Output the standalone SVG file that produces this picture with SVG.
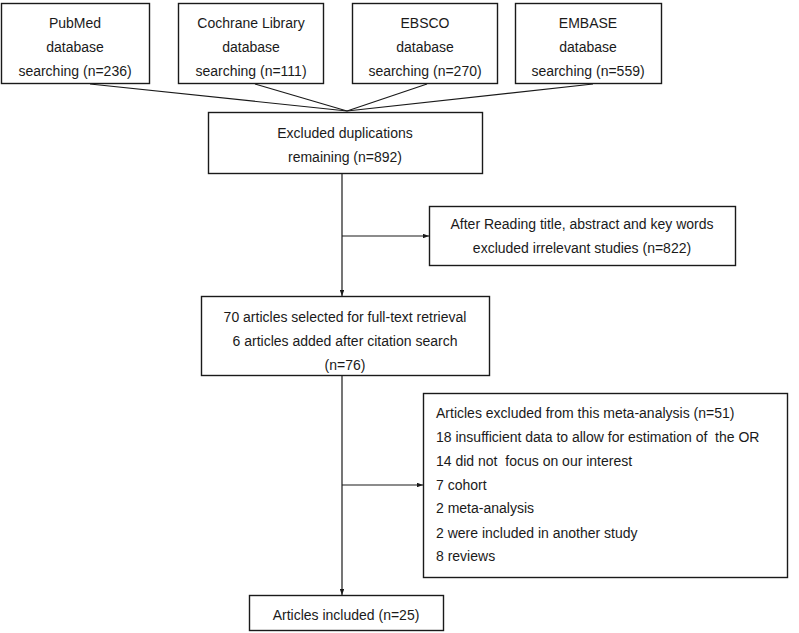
<svg xmlns="http://www.w3.org/2000/svg" width="799" height="633" viewBox="0 0 799 633">
<defs>
<style>
.box{fill:#fff;stroke:#1a1a1a;stroke-width:1.4}
.t{font-family:"Liberation Sans",Arial,sans-serif;font-size:14px;fill:#1a1a1a;text-anchor:middle}
.l{font-family:"Liberation Sans",Arial,sans-serif;font-size:14px;fill:#1a1a1a;white-space:pre}
.c{stroke:#1a1a1a;stroke-width:1.2;fill:none}
</style>
<marker id="ah" viewBox="0 0 8 6" refX="8" refY="3" markerWidth="6" markerHeight="4.5" orient="auto" markerUnits="userSpaceOnUse">
<path d="M0,0 L8,3 L0,6 z" fill="#1a1a1a"/>
</marker>
</defs>
<rect width="799" height="633" fill="#fff"/>
<g id="connectors">
<line class="c" x1="90" y1="84" x2="347" y2="111"/>
<line class="c" x1="255" y1="84" x2="347" y2="111"/>
<line class="c" x1="427" y1="84" x2="347" y2="111"/>
<line class="c" x1="593" y1="84" x2="347" y2="111"/>
<line class="c" x1="342" y1="174" x2="342" y2="296" marker-end="url(#ah)"/>
<line class="c" x1="342" y1="236" x2="429" y2="236" marker-end="url(#ah)"/>
<line class="c" x1="342" y1="375" x2="342" y2="595" marker-end="url(#ah)"/>
<line class="c" x1="342" y1="485" x2="423" y2="485" marker-end="url(#ah)"/>
</g>
<g id="pubmed">
<rect class="box" x="1.5" y="3.5" width="148" height="80"/>
<text class="t" x="75" y="28">PubMed</text>
<text class="t" x="75" y="52">database</text>
<text class="t" x="75" y="76">searching (n=236)</text>
</g>
<g id="cochrane">
<rect class="box" x="178.5" y="3.5" width="145" height="80"/>
<text class="t" x="251" y="28">Cochrane Library</text>
<text class="t" x="251" y="52">database</text>
<text class="t" x="251" y="76">searching (n=111)</text>
</g>
<g id="ebsco">
<rect class="box" x="352.5" y="3.5" width="145" height="80"/>
<text class="t" x="425" y="28">EBSCO</text>
<text class="t" x="425" y="52">database</text>
<text class="t" x="425" y="76">searching (n=270)</text>
</g>
<g id="embase">
<rect class="box" x="515.5" y="3.5" width="146" height="80"/>
<text class="t" x="588" y="28">EMBASE</text>
<text class="t" x="588" y="52">database</text>
<text class="t" x="588" y="76">searching (n=559)</text>
</g>
<g id="dedup">
<rect class="box" x="208.5" y="112.5" width="274" height="61"/>
<text class="t" x="345" y="138">Excluded duplications</text>
<text class="t" x="345" y="162">remaining (n=892)</text>
</g>
<g id="screen">
<rect class="box" x="429.5" y="206.5" width="306" height="59"/>
<text class="t" x="582" y="229">After Reading title, abstract and key words</text>
<text class="t" x="582" y="253">excluded irrelevant studies (n=822)</text>
</g>
<g id="fulltext">
<rect class="box" x="201.5" y="296.5" width="288" height="79"/>
<text class="t" x="345" y="322">70 articles selected for full-text retrieval</text>
<text class="t" x="345" y="346">6 articles added after citation search</text>
<text class="t" x="345" y="370">(n=76)</text>
</g>
<g id="excluded">
<rect class="box" x="423.5" y="393.5" width="364" height="184"/>
<text class="l" x="436" y="418">Articles excluded from this meta-analysis (n=51)</text>
<text class="l" x="436" y="442">18 insufficient data to allow for estimation of  the OR</text>
<text class="l" x="436" y="466">14 did not  focus on our interest</text>
<text class="l" x="436" y="490">7 cohort</text>
<text class="l" x="436" y="513">2 meta-analysis</text>
<text class="l" x="436" y="538">2 were included in another study</text>
<text class="l" x="436" y="561">8 reviews</text>
</g>
<g id="included">
<rect class="box" x="249.5" y="595.5" width="194" height="35"/>
<text class="t" x="346" y="620">Articles included (n=25)</text>
</g>
</svg>
